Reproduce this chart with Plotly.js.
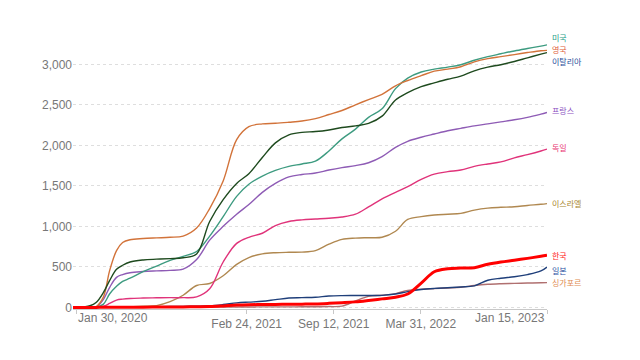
<!DOCTYPE html>
<html><head><meta charset="utf-8">
<script src="https://cdn.plot.ly/plotly-3.0.1.min.js"></script>
<style>html,body{margin:0;padding:0;background:#fff}#chart{width:640px;height:360px}</style>
</head><body><div id="chart"></div>
<script>
// ---- data ----
const dates = ['2020-01-22','2020-02-01','2020-03-01','2020-03-15','2020-04-01','2020-04-15','2020-05-01','2020-05-15','2020-06-01','2020-07-01','2020-08-01','2020-09-01','2020-10-01','2020-11-01','2020-12-01','2021-01-01','2021-02-01','2021-03-01','2021-04-01','2021-05-01','2021-06-01','2021-07-01','2021-08-01','2021-09-01','2021-10-01','2021-11-01','2021-12-01','2022-01-01','2022-02-01','2022-03-01','2022-04-01','2022-05-01','2022-06-01','2022-07-01','2022-08-01','2022-09-01','2022-10-01','2022-11-01','2022-12-01','2023-01-01','2023-01-15'];
const countries = ['미국','영국','이탈리아','프랑스','독일','이스라엘','한국','일본','싱가포르'];
const usa      = [0,0,0,0,40,165,260,320,360,440,510,580,630,690,880,1120,1370,1520,1620,1690,1740,1770,1805,1930,2080,2200,2345,2450,2700,2830,2905,2940,2965,2995,3050,3095,3130,3165,3195,3225,3240];
const uk       = [0,0,0,10,130,450,700,800,835,850,858,865,880,980,1220,1560,2070,2230,2265,2272,2285,2300,2330,2380,2430,2500,2565,2630,2735,2800,2860,2915,2940,2970,3030,3070,3095,3120,3145,3168,3172];
const italy    = [0,0,20,60,185,330,470,520,560,585,595,602,612,660,1060,1330,1530,1650,1850,2030,2130,2160,2170,2190,2220,2240,2270,2360,2560,2650,2725,2770,2815,2855,2920,2965,2995,3035,3080,3125,3145];
const france   = [0,0,0,0,100,245,370,405,428,442,450,457,472,590,830,1000,1150,1270,1420,1530,1610,1640,1658,1695,1725,1750,1785,1860,1975,2050,2100,2140,2180,2210,2240,2265,2290,2315,2345,2385,2405];
const germany  = [0,0,0,0,15,48,90,102,110,115,118,120,120,130,230,560,790,865,915,1010,1060,1080,1090,1100,1115,1150,1240,1340,1420,1490,1580,1645,1675,1695,1740,1770,1795,1845,1885,1930,1953];
const israel   = [0,0,0,0,2,4,5,6,8,15,22,70,150,270,295,390,530,615,660,675,680,682,700,780,840,855,860,865,940,1085,1120,1140,1150,1160,1200,1225,1235,1242,1258,1272,1281];
const korea    = [0,0,0,0,1,2,3,3,3,3,4,5,6,8,10,18,28,33,35,37,38,40,43,50,58,68,85,105,125,165,300,440,478,485,490,532,560,582,605,630,643];
const japan    = [0,0,0,0,1,2,3,4,5,6,8,10,12,15,20,35,55,65,75,95,115,120,125,140,145,146,147,148,165,195,220,234,243,252,265,335,360,378,405,450,498];
const singapore= [0,0,0,0,0,1,2,3,4,4,5,5,5,5,5,5,5,5,6,6,6,7,8,10,15,80,135,150,170,210,225,232,240,248,270,285,292,296,300,304,305];
const xTickDates = ['2020-01-30','2021-02-24','2021-09-12','2022-03-31','2023-01-15'];
const xTickText  = ['Jan 30, 2020','Feb 24, 2021','Sep 12, 2021','Mar 31, 2022','Jan 15, 2023'];
const yTicks = [0,500,1000,1500,2000,2500,3000];

// ---- styles ----
const seriesValues = [usa, uk, italy, france, germany, israel, korea, japan, singapore];
const lineColors  = ['#3d9b80','#d2733a','#1e4a1e','#8e5bb5','#e0337a','#b08850','#ff0000','#1f3f7a','#b07070'];
const labelColors = ['#1f9e89','#e0603a','#1f4e9a','#8a4fbf','#e8336f','#a8862e','#ff1a1a','#1f4e9f','#e08a50'];
const lineWidths  = [1.4,1.4,1.4,1.4,1.4,1.4,3,1.4,1.4];
const labelShift  = [7.5,1,-8.5,2,2,0,0,-3,0];
const drawOrder   = [8,7,5,4,3,0,1,2,6];

const traces = drawOrder.map(i => ({
  type:'scatter', mode:'lines', x: dates, y: seriesValues[i], name: countries[i],
  line:{color: lineColors[i], width: lineWidths[i], shape:'spline', smoothing:1},
  hoverinfo:'skip'
}));

const annotations = countries.map((c,i) => ({
  x: dates[dates.length-1], y: seriesValues[i][seriesValues[i].length-1],
  xref:'x', yref:'y', text: c, showarrow:false, xanchor:'left', yanchor:'middle',
  xshift: 3.5, yshift: labelShift[i], borderpad:0,
  font:{family:'Noto Sans CJK KR', size:8, color: labelColors[i]}
}));
annotations.push({x: xTickDates[0], y:0, xref:'x', yref:'paper', text: xTickText[0], showarrow:false,
  xanchor:'left', yanchor:'middle', yshift:-9, font:{family:'Liberation Sans, Arial', size:12, color:'#777'}});
annotations.push({x: xTickDates[4], y:0, xref:'x', yref:'paper', text: xTickText[4], showarrow:false,
  xanchor:'right', yanchor:'middle', yshift:-9, font:{family:'Liberation Sans, Arial', size:12, color:'#777'}});

const layout = {
  width:640, height:360,
  margin:{l:73, r:93, t:40, b:51},
  paper_bgcolor:'#fff', plot_bgcolor:'#fff',
  showlegend:false,
  font:{family:'Liberation Sans, Arial', size:12, color:'#777'},
  xaxis:{type:'date', range:['2020-01-22','2023-01-15'], tickmode:'array', tickvals: xTickDates,
    ticktext: xTickText.map((t,i)=> (i===0||i===xTickText.length-1)?'':t),
    showgrid:false, zeroline:false, showline:true, linecolor:'#c8c8c8', linewidth:1,
    ticks:'outside', ticklen:4, tickcolor:'#c8c8c8', tickfont:{size:12, color:'#777'}},
  yaxis:{range:[-20,3300], tickmode:'array', tickvals: yTicks, tickformat:',d',
    showgrid:true, gridcolor:'#dedede', griddash:'dot', gridwidth:1, zeroline:false,
    showline:false, ticks:'', tickfont:{size:12, color:'#777'}},
  annotations: annotations
};
Plotly.newPlot('chart', traces, layout, {staticPlot:true, displayModeBar:false});
</script></body></html>
